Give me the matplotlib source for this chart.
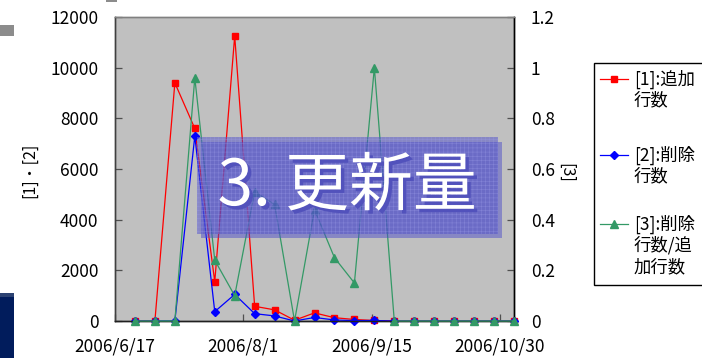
import datetime as dt

import matplotlib
matplotlib.use("Agg")
import matplotlib.pyplot as plt
import matplotlib.patheffects as pe
from matplotlib.patches import Rectangle
from matplotlib.lines import Line2D

plt.rcParams["font.family"] = ["Noto Sans CJK JP", "DejaVu Sans"]
plt.rcParams["hatch.linewidth"] = 0.4

# weekly counts
dates = ["2006-06-24", "2006-07-01", "2006-07-08", "2006-07-15", "2006-07-22",
         "2006-07-29", "2006-08-05", "2006-08-12", "2006-08-19", "2006-08-26",
         "2006-09-02", "2006-09-09", "2006-09-16", "2006-09-23", "2006-09-30",
         "2006-10-07", "2006-10-14", "2006-10-21", "2006-10-28", "2006-11-04"]
added = [0, 0, 9400, 7600, 1550, 11250, 580, 440, 30, 320,
         130, 60, 20, 0, 0, 0, 0, 0, 0, 0]
deleted = [0, 0, 0, 7300, 370, 1050, 290, 200, 0, 140,
           40, 15, 20, 0, 0, 0, 0, 0, 0, 0]
ratio = [0, 0, 0, 0.96, 0.24, 0.10, 0.51, 0.46, 0, 0.44,
         0.25, 0.15, 1.0, 0, 0, 0, 0, 0, 0, 0]

series_labels = ["[1]:追加\n行数", "[2]:削除\n行数", "[3]:削除\n行数/追\n加行数"]
series_colors = ["#FF0000", "#0000FF", "#339966"]
series_markers = ["s", "D", "^"]
series_msizes = [4.2, 3.6, 5.2]

x_ticks = ["2006-06-17", "2006-08-01", "2006-09-15", "2006-10-30"]
x_ticklabels = ["2006/6/17", "2006/8/1", "2006/9/15", "2006/10/30"]
left_ticks = [0, 2000, 4000, 6000, 8000, 10000, 12000]
right_ticks = [0, 0.2, 0.4, 0.6, 0.8, 1.0, 1.2]
right_ticklabels = ["0", "0.2", "0.4", "0.6", "0.8", "1", "1.2"]

W, H = 702, 358
fig = plt.figure(figsize=(W / 100, H / 100), dpi=100)


def fx(px):
    return px / W


def fy(py):
    return 1 - py / H


def to_date(s):
    return dt.datetime.strptime(s, "%Y-%m-%d")


xs = [to_date(d) for d in dates]

ax = fig.add_axes([fx(115), fy(321), 399 / W, 304 / H])
ax.set_facecolor("#C0C0C0")
ax2 = ax.twinx()

ax.plot(xs, added, color=series_colors[0], lw=0.9, marker=series_markers[0],
        ms=series_msizes[0], clip_on=False, zorder=3)
ax.plot(xs, deleted, color=series_colors[1], lw=0.9, marker=series_markers[1],
        ms=series_msizes[1], clip_on=False, zorder=4)
ax2.plot(xs, ratio, color=series_colors[2], lw=0.9, marker=series_markers[2],
         ms=series_msizes[2], clip_on=False, zorder=3)

ax.set_xlim(to_date("2006-06-17"), to_date("2006-11-04"))
ax.set_ylim(0, 12000)
ax2.set_ylim(0, 1.2)
ax.set_xticks([to_date(d) for d in x_ticks])
ax.set_xticklabels(x_ticklabels, fontsize=12.5)
ax.set_yticks(left_ticks)
ax.set_yticklabels([str(v) for v in left_ticks], fontsize=12.5)
ax2.set_yticks(right_ticks)
ax2.set_yticklabels(right_ticklabels, fontsize=12.5)

for a in (ax, ax2):
    a.tick_params(direction="in", length=5, width=0.9, color="#505050")
ax.tick_params(axis="y", pad=12)
ax.tick_params(axis="x", pad=12)
ax2.tick_params(axis="y", pad=12)

for a in (ax, ax2):
    a.spines["top"].set_color("#808080")
    a.spines["left"].set_color("#404040")
    a.spines["right"].set_color("#000000")
    a.spines["bottom"].set_color("#202020")
    for s in a.spines.values():
        s.set_linewidth(1.0)

fig.text(fx(30), fy(170), "[1]・[2]", rotation=90, fontsize=11.5,
         ha="center", va="center")
fig.text(fx(566), fy(173), "[3]", rotation=-90, fontsize=11.5,
         ha="center", va="center")

# legend box with entries aligned on the first text line
fig.add_artist(Rectangle((fx(594), fy(285)), (720 - 594) / W, (285 - 63) / H,
                         transform=fig.transFigure, facecolor="white",
                         edgecolor="black", lw=1.0, zorder=2))
entry_tops = [79, 155, 224]
line_step = 21.5
for label, col, mk, msz, ty in zip(series_labels, series_colors,
                                   series_markers, series_msizes, entry_tops):
    fig.add_artist(Line2D([fx(600), fx(628)], [fy(ty), fy(ty)], color=col,
                          lw=0.9, transform=fig.transFigure, zorder=3))
    fig.add_artist(Line2D([fx(614)], [fy(ty)], color=col, marker=mk, ms=msz,
                          transform=fig.transFigure, zorder=3))
    for k, part in enumerate(label.split("\n")):
        fig.text(fx(634), fy(ty + k * line_step), part, fontsize=12.5,
                 ha="left", va="center", zorder=3)

# title panel laid over the plot
fig.add_artist(Rectangle((fx(201), fy(238)), (502 - 201) / W, (238 - 142) / H,
                         transform=fig.transFigure, facecolor="#5050c8",
                         edgecolor="none", alpha=0.5, zorder=5))
fig.add_artist(Rectangle((fx(197), fy(234)), (498 - 197) / W, (234 - 137) / H,
                         transform=fig.transFigure, facecolor="#5050c8",
                         edgecolor="#9a9ae6", lw=0, hatch="++++",
                         alpha=0.5, zorder=5))
fig.text(fx(347), fy(187), "3. 更新量", fontsize=46, color="white",
         ha="center", va="center", zorder=7,
         path_effects=[pe.withSimplePatchShadow(offset=(2.5, -2.5),
                                                shadow_rgbFace="#5252bc",
                                                alpha=1.0)])

# slide-edge decorations
fig.add_artist(Rectangle((0, fy(36)), fx(14), 11 / H, transform=fig.transFigure,
                         facecolor="#8c8c8c", edgecolor="none", zorder=1))
fig.add_artist(Rectangle((fx(106), fy(2)), fx(11), 2 / H,
                         transform=fig.transFigure, facecolor="#8c8c8c",
                         edgecolor="none", zorder=1))
fig.add_artist(Rectangle((0, 0), fx(14), (358 - 297) / H,
                         transform=fig.transFigure, facecolor="#011c5c",
                         edgecolor="none", zorder=1))
fig.add_artist(Rectangle((0, fy(297)), fx(14), 4 / H,
                         transform=fig.transFigure, facecolor="#2c4272",
                         edgecolor="none", zorder=1))

fig.savefig("out.png", dpi=100)
